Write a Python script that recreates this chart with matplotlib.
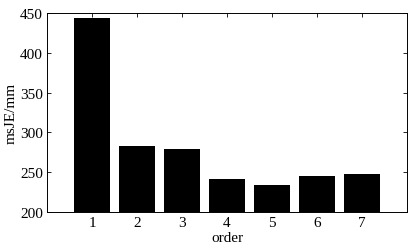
import matplotlib
matplotlib.use('Agg')
import matplotlib.pyplot as plt

order = [1, 2, 3, 4, 5, 6, 7]
msje = [444, 283, 279.5, 241, 234, 245, 248]

plt.rcParams['font.family'] = ['Liberation Serif', 'DejaVu Serif']

fig = plt.figure(figsize=(4.13, 2.51), dpi=100)
ax = fig.add_axes([47/413, 1 - 213/251, 360/413, 199/251])
ax.bar(order, msje, width=0.8, color='black', bottom=0)
ax.set_xlim(0, 8)
ax.set_ylim(200, 450)
ax.set_xticks(order)
ax.set_yticks([200, 250, 300, 350, 400, 450])
ax.tick_params(direction='in', top=True, right=True, labelsize=11, length=3, width=0.6, pad=3)
for s in ax.spines.values():
    s.set_linewidth(0.7)
ax.set_xlabel('order', fontsize=11, labelpad=1)
ax.set_ylabel('msJE/mm', fontsize=11, labelpad=2)

fig.savefig('out.png', dpi=100)
